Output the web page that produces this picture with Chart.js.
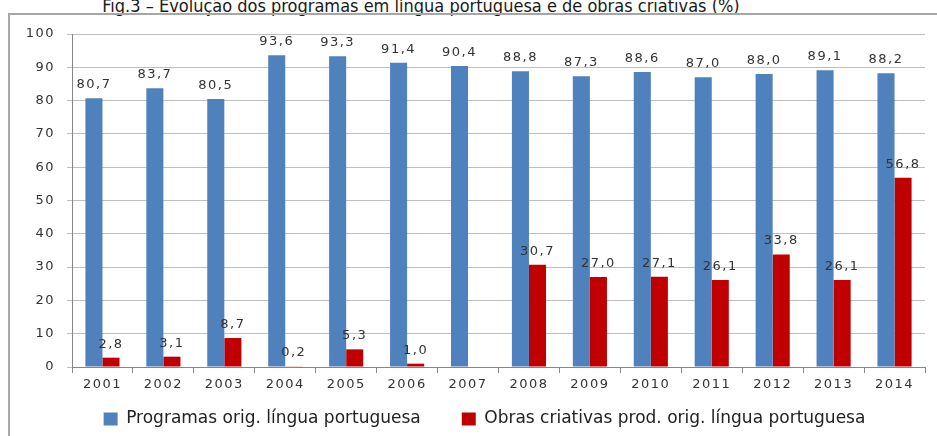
<!DOCTYPE html>
<html>
<head>
<meta charset="utf-8">
<script src="https://cdn.jsdelivr.net/npm/chart.js@4.4.0/dist/chart.umd.min.js"></script>
<style>
  html, body { margin: 0; padding: 0; background: #fff; }
  #wrap { position: relative; width: 937px; height: 436px; overflow: hidden; }
  #title {
    position: absolute; left: 0; width: 842px; top: -4px; text-align: center;
    font-family: "DejaVu Sans Condensed", "Liberation Sans Narrow", "DejaVu Sans", sans-serif;
    font-size: 18px; line-height: 20px; color: #1a1a1a; white-space: nowrap;
  }
  #frame {
    position: absolute; left: 8px; top: 13px; width: 1000px; height: 500px;
    border: 2px solid #a6a6a6; box-sizing: border-box;
  }
  canvas { position: absolute; left: 0; top: 0; }
</style>
</head>
<body>
<div id="wrap">
  <div id="title">Fig.3 – Evolução dos programas em língua portuguesa e de obras criativas (%)</div>
  <div id="frame"></div>
  <canvas id="chart" width="937" height="436"></canvas>
</div>
<script>
const years = ['2001', '2002', '2003', '2004', '2005', '2006', '2007', '2008', '2009', '2010', '2011', '2012', '2013', '2014'];
const programas = [80.7, 83.7, 80.5, 93.6, 93.3, 91.4, 90.4, 88.8, 87.3, 88.6, 87.0, 88.0, 89.1, 88.2];
const obras = [2.8, 3.1, 8.7, 0.2, 5.3, 1.0, null, 30.7, 27.0, 27.1, 26.1, 33.8, 26.1, 56.8];
const yTicks = [0, 10, 20, 30, 40, 50, 60, 70, 80, 90, 100];

const tickFont = { family: 'DejaVu Sans', size: 13 };

// letter spacing: none for legend, wide for values and axis labels
const spacingPlugin = {
  id: 'spacing',
  afterInit(chart) {
    // small fixed legend height so the plot keeps its place
    const lg = chart.legend;
    const fit = lg.fit;
    lg.fit = function () { fit.call(this); this.height = 37; };
  },
  afterLayout(chart) {
    // legend drawn higher (top edge only) and a bit right of centre
    const lg = chart.legend;
    lg.left += 22;
    lg.right += 22;
    lg.top -= 27.5;
  },
  beforeDraw(chart) {
    chart.ctx.letterSpacing = '0px';
  },
  afterDatasetsDraw(chart) {
    const ctx = chart.ctx;
    ctx.letterSpacing = '1.5px';
    ctx.save();
    ctx.font = '13px "DejaVu Sans"';
    ctx.fillStyle = '#333';
    ctx.textAlign = 'center';
    ctx.textBaseline = 'alphabetic';
    chart.data.datasets.forEach((ds, i) => {
      chart.getDatasetMeta(i).data.forEach((bar, j) => {
        const v = ds.data[j];
        if (v === null) return;
        ctx.fillText(v.toFixed(1).replace('.', ','), bar.x, bar.y - 10);
      });
    });
    ctx.restore();
  }
};

new Chart(document.getElementById('chart'), {
  type: 'bar',
  data: {
    labels: years,
    datasets: [
      { label: 'Programas orig. língua portuguesa', data: programas, backgroundColor: '#4f81bd' },
      { label: 'Obras criativas prod. orig. língua portuguesa', data: obras, backgroundColor: '#c00000' }
    ]
  },
  options: {
    responsive: false,
    animation: false,
    events: [],
    layout: { padding: { top: 34, right: 12, left: 0, bottom: 2 } },
    datasets: { bar: { categoryPercentage: 0.56, barPercentage: 1 } },
    plugins: {
      tooltip: { enabled: false },
      legend: {
        position: 'bottom',
        labels: {
          boxWidth: 14, boxHeight: 13, padding: 41,
          color: '#222',
          font: { family: 'DejaVu Sans', size: 17 }
        }
      }
    },
    scales: {
      x: {
        grid: { drawOnChartArea: false, tickLength: 6, color: '#868686' },
        border: { color: '#868686' },
        ticks: { z: 1, color: '#333', font: tickFont, padding: 4 },
        afterFit: s => { s.height = 30; }
      },
      y: {
        min: 0, max: 100,
        afterBuildTicks: s => { s.ticks = yTicks.map(v => ({ value: v })); },
        grid: { color: '#bfbfbf', tickLength: 5 },
        border: { color: '#868686' },
        ticks: { z: 1, color: '#333', font: tickFont, padding: 12 },
        afterFit: s => { s.width = 72; }
      }
    }
  },
  plugins: [spacingPlugin]
});
</script>
</body>
</html>
